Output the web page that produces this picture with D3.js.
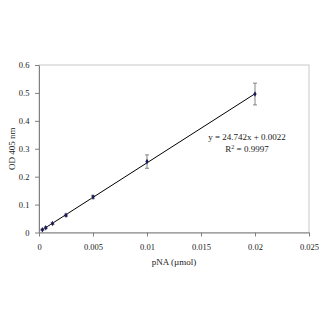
<!DOCTYPE html>
<html><head><meta charset="utf-8">
<script src="https://d3js.org/d3.v7.min.js"></script>
<style>body{margin:0;background:#fff}svg{display:block}text{font-family:"Liberation Serif","Times New Roman",serif}</style>
</head><body><svg id="c" width="325" height="325"></svg>
<script>
const xValues = [0.0003125, 0.000625, 0.00125, 0.0025, 0.005, 0.01, 0.02];
const yValues = [0.010, 0.017, 0.032, 0.062, 0.127, 0.254, 0.496];
const yErrors = [0.002, 0.003, 0.003, 0.004, 0.006, 0.024, 0.039];
const xTicks = [0, 0.005, 0.01, 0.015, 0.02, 0.025];
const xTickLabels = ["0", "0.005", "0.01", "0.015", "0.02", "0.025"];
const yTicks = [0, 0.1, 0.2, 0.3, 0.4, 0.5, 0.6];
const yTickLabels = ["0", "0.1", "0.2", "0.3", "0.4", "0.5", "0.6"];
const slope = 24.742, intercept = 0.0022;

const svg = d3.select("#c");
const L = 39, R = 309, T = 65, B = 232.5;
const x = d3.scaleLinear().domain([0, 0.025]).range([L, R]);
const y = d3.scaleLinear().domain([0, 0.6]).range([B, T]);

svg.append("rect").attr("x", L).attr("y", T).attr("width", R - L).attr("height", B - T)
  .attr("fill", "none").attr("stroke", "#c8c8c8").attr("stroke-width", 1);

const xAxis = svg.append("g").attr("transform", `translate(0,${B})`)
  .call(d3.axisBottom(x).tickValues(xTicks).tickFormat((d, i) => xTickLabels[i]).tickSize(4).tickSizeOuter(0));
const yAxis = svg.append("g").attr("transform", `translate(${L},0)`)
  .call(d3.axisLeft(y).tickValues(yTicks).tickFormat((d, i) => yTickLabels[i]).tickSize(4).tickSizeOuter(0));
[xAxis, yAxis].forEach(a => {
  a.select(".domain").attr("stroke", "#808080");
  a.selectAll(".tick line").attr("stroke", "#808080");
  a.selectAll("text").attr("fill", "#222").style("font-size", "8.5px").style("font-family", "Liberation Serif");
});
xAxis.selectAll("text").attr("dy", "1.25em");
yAxis.selectAll("text").attr("dx", "-0.3em");

// trendline
svg.append("line")
  .attr("x1", x(xValues[0])).attr("y1", y(slope * xValues[0] + intercept))
  .attr("x2", x(xValues[xValues.length - 1])).attr("y2", y(slope * xValues[xValues.length - 1] + intercept))
  .attr("stroke", "#000").attr("stroke-width", 1);

// error bars
const eb = svg.append("g").attr("stroke", "#777").attr("stroke-width", 0.9);
xValues.forEach((xv, i) => {
  const cx = x(xv), top = y(yValues[i] + yErrors[i]), bot = y(yValues[i] - yErrors[i]);
  eb.append("line").attr("x1", cx).attr("x2", cx).attr("y1", top).attr("y2", bot);
  eb.append("line").attr("x1", cx - 2).attr("x2", cx + 2).attr("y1", top).attr("y2", top);
  eb.append("line").attr("x1", cx - 2).attr("x2", cx + 2).attr("y1", bot).attr("y2", bot);
});

// markers
svg.append("g").selectAll("path").data(xValues).join("path")
  .attr("transform", (d, i) => `translate(${x(d)},${y(yValues[i])})`)
  .attr("d", d3.symbol(d3.symbolDiamond, 9)).attr("fill", "#1a1a5a");

// equation
svg.append("text").attr("x", 247).attr("y", 139.5).attr("text-anchor", "middle")
  .style("font-size", "9px").attr("fill", "#222").text("y = 24.742x + 0.0022");
const r2 = svg.append("text").attr("x", 247).attr("y", 152).attr("text-anchor", "middle")
  .style("font-size", "9px").attr("fill", "#222");
r2.append("tspan").text("R");
r2.append("tspan").attr("dy", -3.5).style("font-size", "6px").text("2");
r2.append("tspan").attr("dy", 3.5).text(" = 0.9997");

// axis titles
svg.append("text").attr("x", 174).attr("y", 265).attr("text-anchor", "middle")
  .style("font-size", "9px").attr("fill", "#222").text("pNA (µmol)");
svg.append("text").attr("transform", `translate(15,${(T + B) / 2}) rotate(-90)`).attr("text-anchor", "middle")
  .style("font-size", "9px").attr("fill", "#222").text("OD 405 nm");
</script></body></html>
